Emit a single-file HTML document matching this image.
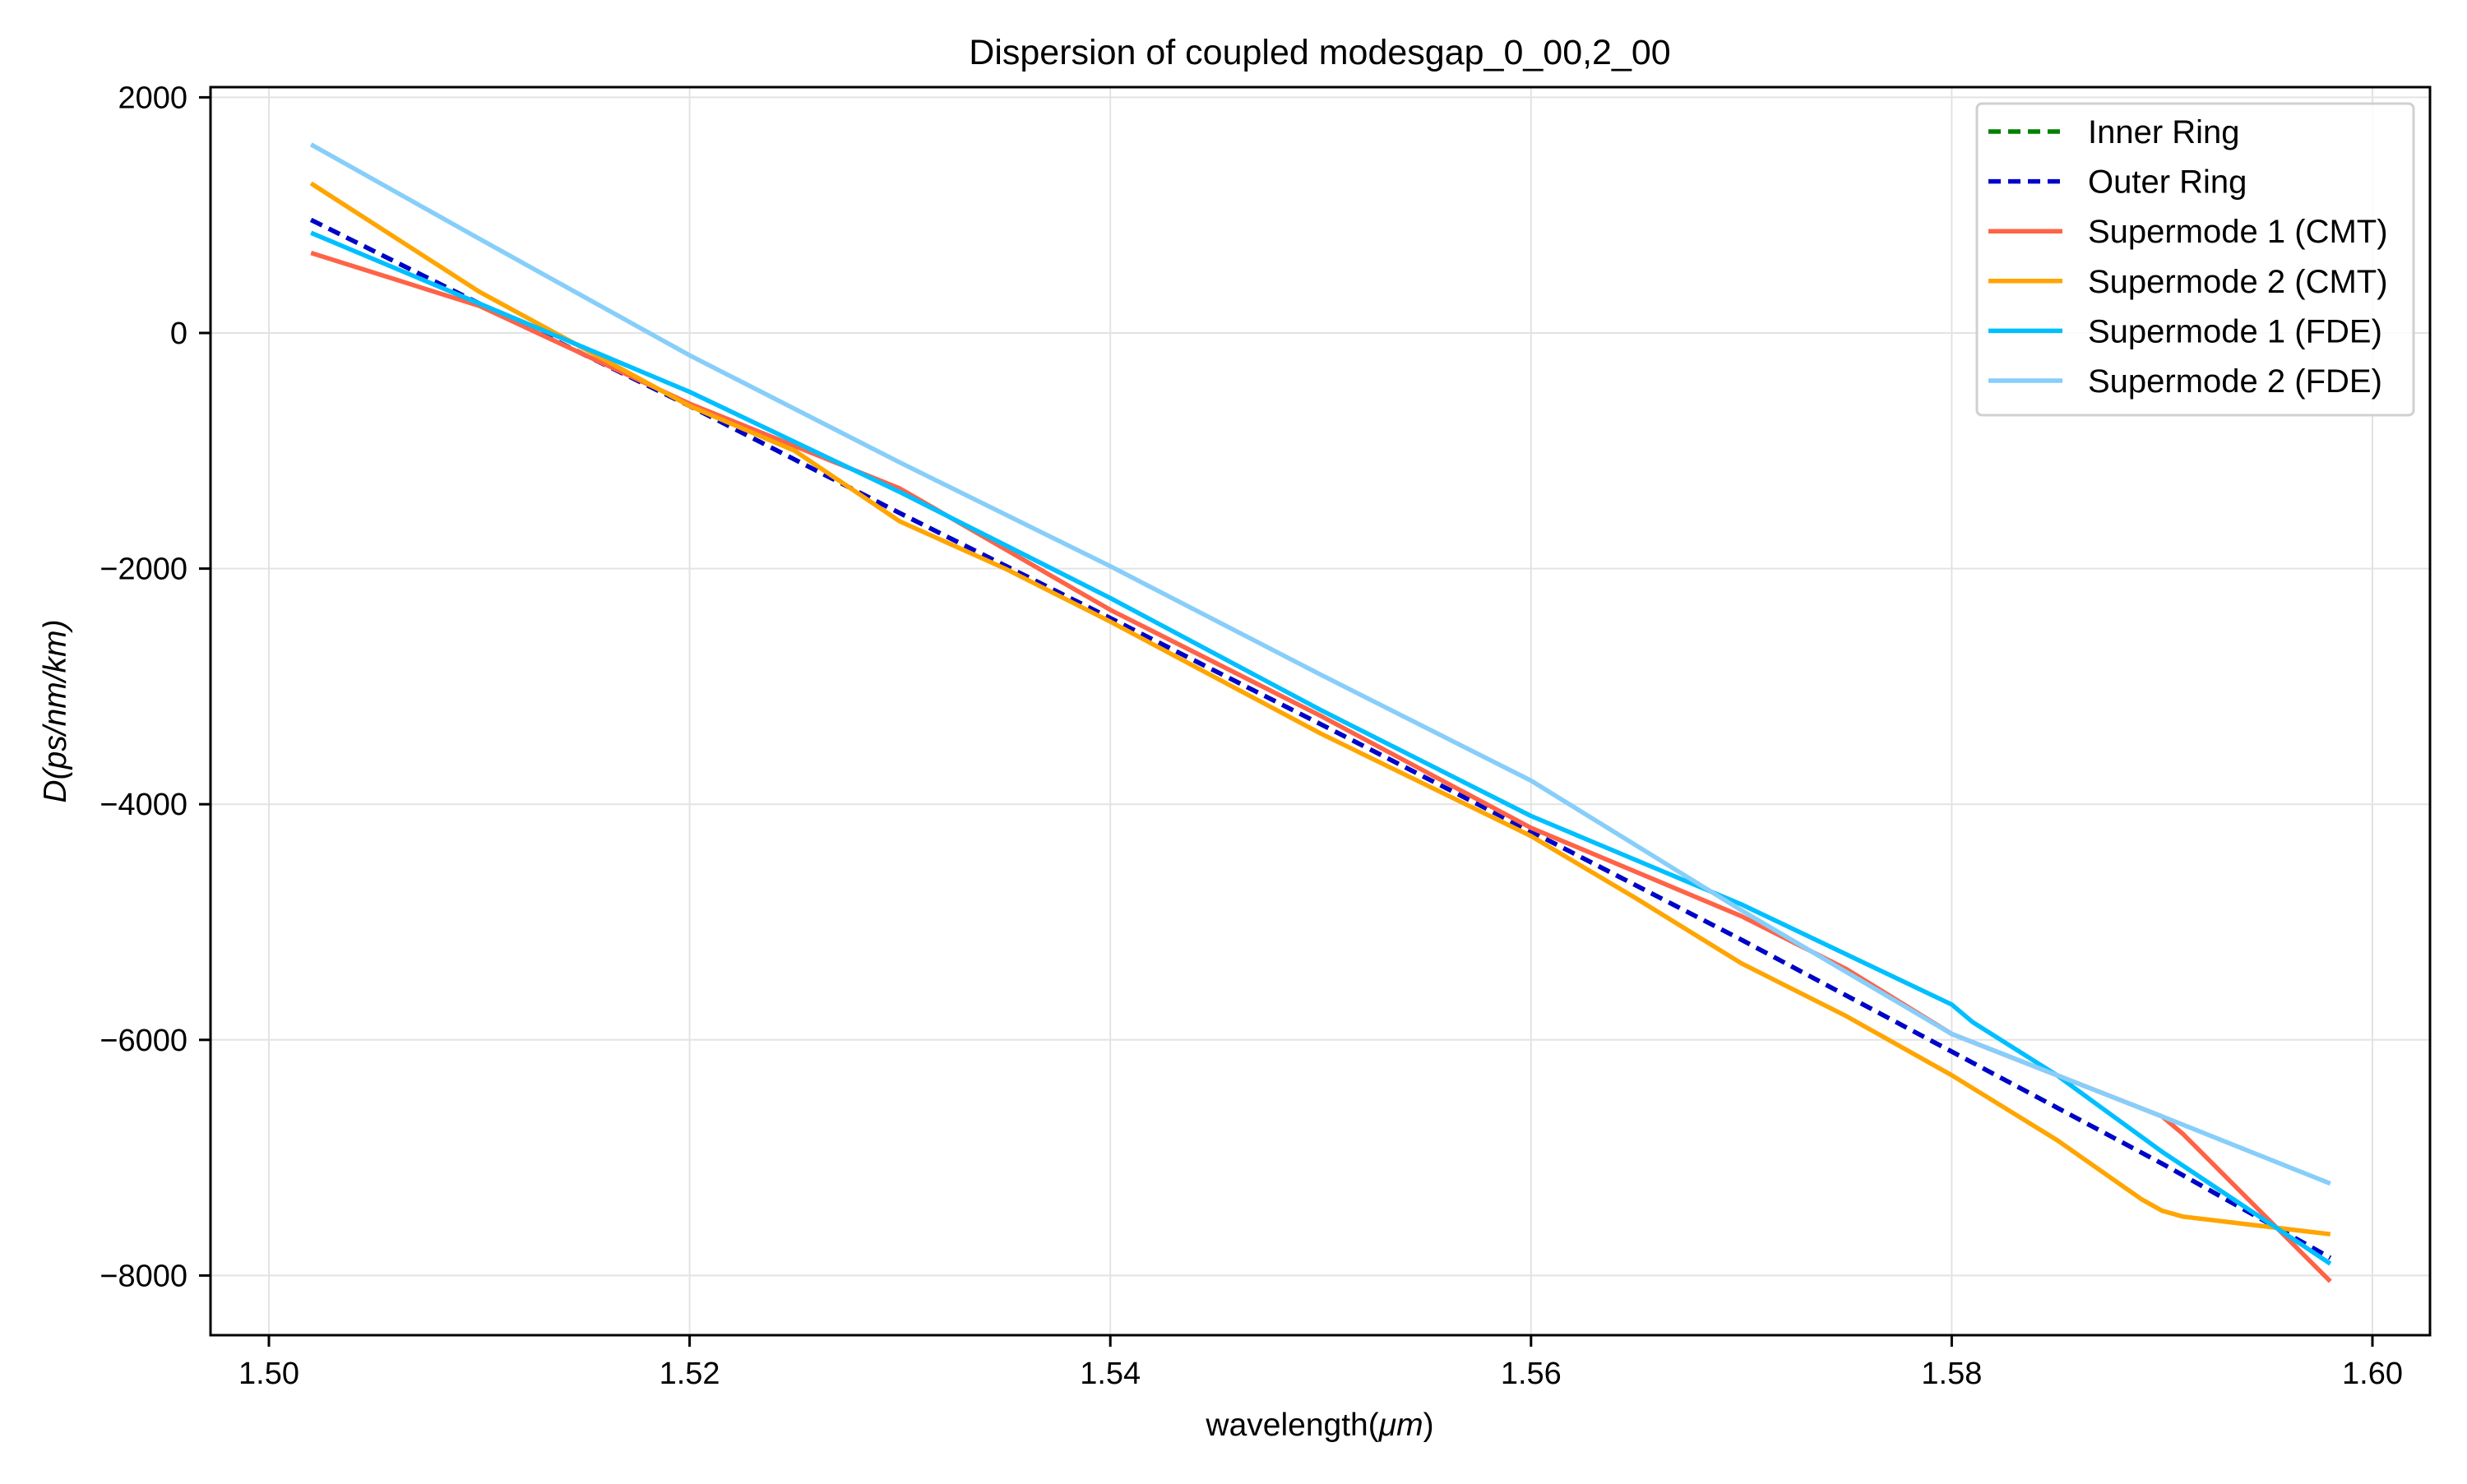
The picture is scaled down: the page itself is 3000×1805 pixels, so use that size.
<!DOCTYPE html>
<html><head><meta charset="utf-8">
<style>
html,body{margin:0;padding:0;background:#fff;}
svg text{font-family:"Liberation Sans",Arial,sans-serif;fill:#000;}
</style></head>
<body>
<svg id="chart" xmlns="http://www.w3.org/2000/svg" width="3000" height="1800" viewBox="0 0 3000 1800">
<rect width="3000" height="1800" fill="#fff"/>
<text x="1605" y="78" font-size="43" text-anchor="middle">Dispersion of coupled modesgap_0_00,2_00</text>
<g id="grid"></g>
<g id="series"></g>
<rect x="256" y="106" width="2699" height="1518" fill="none" stroke="#000" stroke-width="3"/>
<g id="ticks"></g>
<text x="1605" y="1746" font-size="39" text-anchor="middle">wavelength(<tspan font-style="italic">μm</tspan>)</text>
<text transform="translate(80,865) rotate(-90)" font-size="39" text-anchor="middle" font-style="italic">D(ps/nm/km)</text>
<g id="legend"></g>
</svg>
<script>
const xTicks = [1.50, 1.52, 1.54, 1.56, 1.58, 1.60];
const xTickLabels = ["1.50", "1.52", "1.54", "1.56", "1.58", "1.60"];
const yTicks = [2000, 0, -2000, -4000, -6000, -8000];
const yTickLabels = ["2000", "0", "\u22122000", "\u22124000", "\u22126000", "\u22128000"];

const xRing = [1.502, 1.51, 1.52, 1.53, 1.54, 1.55, 1.56, 1.57, 1.58, 1.59, 1.598];
const innerRing = [960, 250, -620, -1530, -2420, -3320, -4230, -5150, -6100, -7050, -7850];
const outerRing = [960, 250, -620, -1530, -2420, -3320, -4230, -5150, -6100, -7050, -7850];

const xSm1Cmt = [1.502, 1.51, 1.52, 1.53, 1.54, 1.55, 1.56, 1.57, 1.575, 1.58, 1.585, 1.59, 1.591, 1.598];
const sm1Cmt = [680, 230, -600, -1320, -2350, -3250, -4200, -4950, -5400, -5950, -6300, -6650, -6800, -8050];

const xSm2Cmt = [1.502, 1.51, 1.52, 1.525, 1.53, 1.535, 1.54, 1.55, 1.56, 1.565, 1.57, 1.575, 1.58, 1.585, 1.589, 1.59, 1.591, 1.598];
const sm2Cmt = [1270, 350, -620, -1000, -1600, -2000, -2450, -3400, -4270, -4800, -5350, -5800, -6300, -6850, -7350, -7450, -7500, -7650];

const xSm1Fde = [1.502, 1.51, 1.52, 1.53, 1.54, 1.55, 1.56, 1.57, 1.58, 1.581, 1.585, 1.59, 1.598];
const sm1Fde = [850, 250, -500, -1350, -2250, -3200, -4100, -4850, -5700, -5850, -6300, -6950, -7900];

const xSm2Fde = [1.502, 1.51, 1.52, 1.53, 1.54, 1.55, 1.56, 1.57, 1.58, 1.59, 1.598];
const sm2Fde = [1600, 800, -190, -1100, -1980, -2900, -3800, -4900, -5950, -6650, -7220];

const legendLabels = ["Inner Ring", "Outer Ring", "Supermode 1 (CMT)", "Supermode 2 (CMT)", "Supermode 1 (FDE)", "Supermode 2 (FDE)"];

const NS = "http://www.w3.org/2000/svg";
function sx(v){ return 327 + (v - 1.50) / 0.10 * 2558; }
function sy(v){ return 405 - v / 1000 * 143.3; }
function mk(tag, attrs, parent){ const e = document.createElementNS(NS, tag); for (const k in attrs) e.setAttribute(k, attrs[k]); parent.appendChild(e); return e; }

const grid = document.getElementById('grid');
const ticks = document.getElementById('ticks');
xTicks.forEach((t, i) => {
  const g = mk('line', {x1: sx(t), x2: sx(t), y1: 106, y2: 1624, stroke: '#e3e3e3', 'stroke-width': 2}, grid);
  
  
  const tk = mk('line', {x1: sx(t), x2: sx(t), y1: 1624, y2: 1638, stroke: '#000', 'stroke-width': 3}, ticks);
  
  
  const lb = mk('text', {x: sx(t), y: 1683, 'font-size': 38, 'text-anchor': 'middle'}, ticks);
  lb.textContent = xTickLabels[i];
  
  
});
yTicks.forEach((t, i) => {
  const g = mk('line', {x1: 256, x2: 2955, y1: sy(t), y2: sy(t), stroke: '#e3e3e3', 'stroke-width': 2}, grid);
  
  
  const tk = mk('line', {x1: 242, x2: 256, y1: sy(t), y2: sy(t), stroke: '#000', 'stroke-width': 3}, ticks);
  
  
  const lb = mk('text', {x: 228, y: sy(t) + 13, 'font-size': 38, 'text-anchor': 'end'}, ticks);
  lb.textContent = yTickLabels[i];
  
  
});

const series = document.getElementById('series');
function drawLine(xs, ys, color, dash, name){
  const d = xs.map((x, i) => (i ? 'L' : 'M') + sx(x).toFixed(1) + ',' + sy(ys[i]).toFixed(1)).join(' ');
  const attrs = {d: d, fill: 'none', stroke: color, 'stroke-width': 5.5, 'stroke-linejoin': 'round'};
  if (dash) attrs['stroke-dasharray'] = '15,9';
  const p = mk('path', attrs, series);
  
  
}
drawLine(xRing, innerRing, '#008000', true, 'inner-ring-line');
drawLine(xRing, outerRing, '#0000cd', true, 'outer-ring-line');
drawLine(xSm1Cmt, sm1Cmt, '#ff6347', false, 'supermode-1-cmt-line');
drawLine(xSm2Cmt, sm2Cmt, '#ffa500', false, 'supermode-2-cmt-line');
drawLine(xSm1Fde, sm1Fde, '#00bfff', false, 'supermode-1-fde-line');
drawLine(xSm2Fde, sm2Fde, '#87cefa', false, 'supermode-2-fde-line');

const legend = document.getElementById('legend');
const box = mk('rect', {x: 2404, y: 126, width: 531, height: 379, rx: 6, fill: '#fff', 'fill-opacity': 0.85, stroke: '#d0d0d0', 'stroke-width': 3}, legend);


const legColors = ['#008000', '#0000cd', '#ff6347', '#ffa500', '#00bfff', '#87cefa'];
legendLabels.forEach((lab, i) => {
  const y = 160 + i * 60.6;
  const attrs = {x1: 2418, x2: 2508, y1: y, y2: y, stroke: legColors[i], 'stroke-width': 5.5};
  if (i < 2) attrs['stroke-dasharray'] = '15,9';
  const h = mk('line', attrs, legend);
  
  
  const t = mk('text', {x: 2539, y: y + 14, 'font-size': 40}, legend);
  t.textContent = lab;
  
  
});
</script>
</body></html>
